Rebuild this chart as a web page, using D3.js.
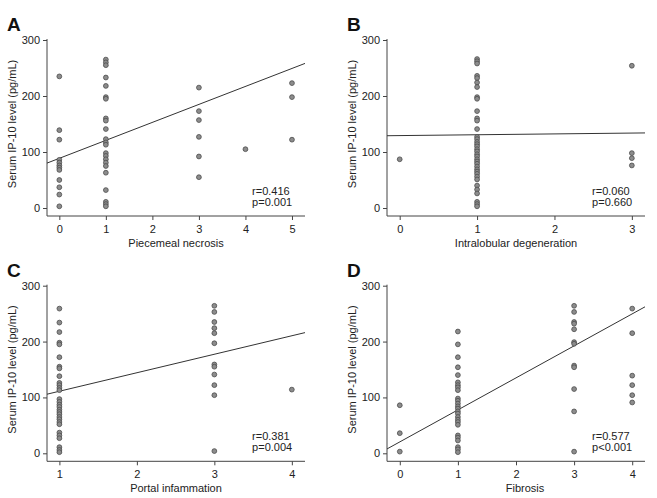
<!DOCTYPE html>
<html><head><meta charset="utf-8">
<script src="https://cdn.jsdelivr.net/npm/d3@7"></script>
<style>
html,body{margin:0;padding:0;background:#fff;}
svg{display:block;font-family:"Liberation Sans",Arial,sans-serif;}
</style></head>
<body>
<svg id="chart" width="657" height="498"></svg>
<script>
// ---------- data ----------
const yTicks = [0, 100, 200, 300];
const yTitle = "Serum IP-10 level (pg/mL)";

// Panel A: Piecemeal necrosis
const aCats = [0, 1, 3, 4, 5];
const aTicks = [0, 1, 2, 3, 4, 5];
const aValues = [
  [235, 139, 122, 86, 81, 76, 72, 68, 50, 37, 24, 3],
  [265, 260, 255, 233, 218, 198, 195, 160, 156, 141, 123, 117, 113, 98, 93, 87, 81, 75, 63, 32, 11, 7, 3],
  [215, 173, 157, 127, 92, 55],
  [105],
  [223, 198, 122]
];
const aFit = [88.7, 32.1];      // intercept, slope
const aStats = ["r=0.416", "p=0.001"];

// Panel B: Intralobular degeneration
const bCats = [0, 1, 3];
const bTicks = [0, 1, 2, 3];
const bValues = [
  [87],
  [266, 262, 258, 236, 232, 224, 216, 198, 195, 173, 160, 156, 141, 127, 123, 118, 114, 110, 105, 101, 96, 92, 87, 83, 79, 74, 69, 65, 61, 56, 51, 40, 33, 26, 11, 7, 3],
  [254, 98, 89, 76]
];
const bFit = [129.3, 1.5];
const bStats = ["r=0.060", "p=0.660"];

// Panel C: Portal infammation
const cCats = [1, 3, 4];
const cTicks = [1, 2, 3, 4];
const cValues = [
  [259, 234, 217, 198, 195, 172, 155, 152, 138, 126, 122, 117, 113, 97, 92, 87, 83, 78, 74, 70, 65, 61, 56, 52, 37, 32, 27, 11, 6, 2],
  [264, 253, 235, 224, 215, 197, 159, 155, 141, 122, 104, 4],
  [114]
];
const cFit = [78.0, 33.1];
const cStats = ["r=0.381", "p=0.004"];

// Panel D: Fibrosis
const dCats = [0, 1, 3, 4];
const dTicks = [0, 1, 2, 3, 4];
const dValues = [
  [86, 36, 3],
  [218, 195, 172, 154, 140, 127, 122, 118, 113, 98, 94, 89, 84, 80, 75, 71, 65, 60, 56, 51, 32, 28, 23, 11, 7, 2],
  [264, 253, 235, 232, 222, 199, 196, 157, 154, 115, 75, 3],
  [259, 215, 139, 122, 104, 91]
];
const dFit = [20.4, 57.3];
const dStats = ["r=0.577", "p<0.001"];

// ---------- layout ----------
const panels = [
  {letter:"A", title:"Piecemeal necrosis", cats:aCats, ticks:aTicks, values:aValues, fit:aFit, stats:aStats,
   xDom:[-0.265, 5.28], left:47, right:305, top:40, bottom:208, titleX:176},
  {letter:"B", title:"Intralobular degeneration", cats:bCats, ticks:bTicks, values:bValues, fit:bFit, stats:bStats,
   xDom:[-0.164, 3.17], left:387, right:645, top:40, bottom:208, titleX:516},
  {letter:"C", title:"Portal infammation", cats:cCats, ticks:cTicks, values:cValues, fit:cFit, stats:cStats,
   xDom:[0.84, 4.17], left:47, right:305, top:285.7, bottom:453.3, titleX:176},
  {letter:"D", title:"Fibrosis", cats:dCats, ticks:dTicks, values:dValues, fit:dFit, stats:dStats,
   xDom:[-0.22, 4.22], left:387, right:645, top:285.7, bottom:453.3, titleX:525}
];

const svg = d3.select("#chart");
const axisColor = "#444";
const textColor = "#222";

panels.forEach(p => {
  const x = d3.scaleLinear().domain(p.xDom).range([p.left, p.right]);
  const y = d3.scaleLinear().domain([0, 300]).range([p.bottom, p.top]);
  const axisY = p.bottom + 8;
  const g = svg.append("g");

  // y axis
  const ya = g.append("g").attr("transform", `translate(${p.left},0)`)
    .call(d3.axisLeft(y).tickValues(yTicks).tickSize(4).tickSizeOuter(0).tickPadding(3));
  ya.select(".domain").remove();
  ya.selectAll(".tick line").attr("stroke", axisColor);
  ya.selectAll(".tick text").attr("fill", textColor).style("font-size", "11px");
  g.append("line").attr("x1", p.left).attr("x2", p.left).attr("y1", p.top - 1).attr("y2", axisY)
    .attr("stroke", axisColor).attr("stroke-width", 1);

  // x axis
  const xa = g.append("g").attr("transform", `translate(0,${axisY})`)
    .call(d3.axisBottom(x).tickValues(p.ticks).tickFormat(d3.format("d")).tickSize(4).tickSizeOuter(0).tickPadding(5));
  xa.select(".domain").remove();
  xa.selectAll(".tick line").attr("stroke", axisColor);
  xa.selectAll(".tick text").attr("fill", textColor).style("font-size", "11px");
  g.append("line").attr("x1", p.left).attr("x2", p.right).attr("y1", axisY).attr("y2", axisY)
    .attr("stroke", axisColor).attr("stroke-width", 1);

  // titles
  g.append("text").attr("x", p.titleX).attr("y", axisY + 31).attr("text-anchor", "middle")
    .attr("fill", textColor).style("font-size", "11px").text(p.title);
  g.append("text").attr("transform", `translate(${p.left - 31},${(p.top + p.bottom) / 2}) rotate(-90)`)
    .attr("text-anchor", "middle").attr("fill", textColor).style("font-size", "11px").text(yTitle);
  g.append("text").attr("x", p.left - 40).attr("y", p.top - 9)
    .attr("fill", "#111").style("font-size", "19px").style("font-weight", "bold")
    .style("font-family", "'Liberation Sans Narrow','Liberation Sans',Arial,sans-serif").text(p.letter);

  // regression line
  const fitPts = p.xDom.map(v => [v, p.fit[0] + p.fit[1] * v]);
  g.append("path").attr("d", d3.line().x(d => x(d[0])).y(d => y(d[1]))(fitPts))
    .attr("stroke", "#333").attr("stroke-width", 1).attr("fill", "none");

  // points
  const pts = [];
  p.cats.forEach((c, i) => p.values[i].forEach(v => pts.push([c, v])));
  g.append("g").selectAll("circle").data(pts).join("circle")
    .attr("cx", d => x(d[0])).attr("cy", d => y(d[1])).attr("r", 2.4)
    .attr("fill", "#8c8c8c").attr("stroke", "#4a4a4a").attr("stroke-width", 0.8);

  // stats
  const sx = p.left + (p.right - p.left) * 0.795;
  g.selectAll("text.stat").data(p.stats).join("text").attr("class", "stat")
    .attr("x", sx).attr("y", (d, i) => p.bottom - 13 + i * 11)
    .attr("fill", textColor).style("font-size", "11px").text(d => d);
});
</script>
</body></html>
